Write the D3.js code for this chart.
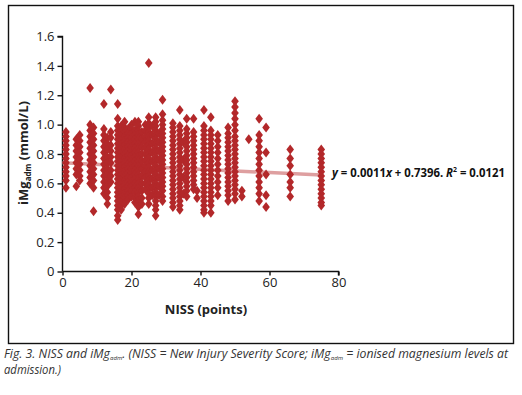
<!DOCTYPE html>
<html lang="en">

<head>
    <meta charset="UTF-8">
    <title>NISS and iMg</title>
    <style>
        body { margin: 0; background: #fff; }
        text { font-family: "Open Sans", "Noto Sans", sans-serif; }
    </style>
</head>

<body>
    <svg width="522" height="395"></svg>
    <script src="https://d3js.org/d3.v7.min.js"></script>
    <script>
        // NISS (points) of each column of patients
        var niss = [1, 4, 5, 8, 9, 12, 13, 14, 16, 17, 18, 19, 20, 21, 22, 23, 24, 25, 26, 27, 28, 29,
            32, 34, 35, 36, 38, 39, 41, 43, 45, 48, 50, 52, 54, 57, 59, 66, 75]

        // iMg adm (mmol/L), same order as niss
        var imgAdm = [
            [0.95, 0.92, 0.89, 0.86, 0.83, 0.80, 0.77, 0.74, 0.71, 0.68, 0.65, 0.62, 0.57],
            [0.90, 0.86, 0.82, 0.78, 0.74, 0.70, 0.66, 0.58],
            [0.93, 0.89, 0.85, 0.81, 0.77, 0.73, 0.69, 0.65, 0.62],
            [1.25, 1.00, 0.96, 0.92, 0.88, 0.84, 0.80, 0.76, 0.72, 0.68, 0.64, 0.60],
            [0.98, 0.94, 0.90, 0.86, 0.82, 0.78, 0.74, 0.70, 0.66, 0.62, 0.57, 0.41],
            [1.14, 0.97, 0.93, 0.89, 0.85, 0.81, 0.77, 0.73, 0.69, 0.65, 0.61, 0.57, 0.53],
            [0.91, 0.87, 0.83, 0.78, 0.74, 0.70, 0.66, 0.62, 0.58, 0.54, 0.50, 0.46],
            [1.24, 0.95, 0.91, 0.86, 0.82, 0.78, 0.74, 0.69, 0.65, 0.61],
            [1.14, 1.04, 0.99, 0.96, 0.93, 0.90, 0.87, 0.84, 0.81, 0.78, 0.75, 0.72, 0.69, 0.66, 0.63, 0.60, 0.57, 0.54, 0.51, 0.48, 0.45, 0.42, 0.38, 0.35],
            [0.99, 0.96, 0.93, 0.90, 0.87, 0.84, 0.81, 0.78, 0.75, 0.72, 0.69, 0.66, 0.63, 0.60, 0.57, 0.54, 0.51, 0.48, 0.45, 0.42],
            [1.02, 0.98, 0.95, 0.92, 0.89, 0.86, 0.83, 0.80, 0.77, 0.74, 0.71, 0.68, 0.65, 0.62, 0.59, 0.56, 0.53, 0.50, 0.46],
            [0.97, 0.94, 0.91, 0.88, 0.85, 0.82, 0.79, 0.76, 0.73, 0.70, 0.67, 0.64, 0.61, 0.58, 0.55, 0.52, 0.49],
            [1.00, 0.97, 0.94, 0.91, 0.88, 0.85, 0.82, 0.79, 0.76, 0.73, 0.70, 0.67, 0.64, 0.61, 0.58, 0.55, 0.51],
            [1.02, 0.96, 0.93, 0.90, 0.87, 0.84, 0.81, 0.78, 0.75, 0.72, 0.69, 0.66, 0.63, 0.60, 0.57, 0.54, 0.50, 0.47],
            [1.02, 0.99, 0.96, 0.93, 0.90, 0.87, 0.84, 0.81, 0.78, 0.75, 0.72, 0.69, 0.66, 0.63, 0.60, 0.57, 0.54, 0.51, 0.48, 0.44, 0.39],
            [0.95, 0.90, 0.85, 0.80, 0.75, 0.70, 0.65, 0.60, 0.55, 0.50, 0.46],
            [1.00, 0.96, 0.92, 0.88, 0.84, 0.80, 0.76, 0.72, 0.68, 0.64, 0.60, 0.56],
            [1.42, 1.05, 1.01, 0.98, 0.95, 0.92, 0.89, 0.86, 0.83, 0.80, 0.77, 0.74, 0.71, 0.68, 0.65, 0.62, 0.59, 0.56, 0.53, 0.50, 0.46],
            [0.99, 0.93, 0.87, 0.81, 0.75, 0.69, 0.63, 0.57, 0.52],
            [1.05, 1.02, 0.99, 0.96, 0.93, 0.90, 0.87, 0.84, 0.81, 0.78, 0.75, 0.72, 0.69, 0.66, 0.63, 0.60, 0.57, 0.54, 0.51, 0.48, 0.45, 0.42, 0.38],
            [0.94, 0.88, 0.82, 0.76, 0.70, 0.64, 0.58, 0.52],
            [1.17, 1.07, 1.03, 1.00, 0.97, 0.94, 0.91, 0.88, 0.85, 0.82, 0.79, 0.76, 0.73, 0.70, 0.67, 0.64, 0.61, 0.58, 0.55, 0.51, 0.48],
            [1.01, 0.98, 0.95, 0.92, 0.89, 0.86, 0.83, 0.80, 0.77, 0.74, 0.71, 0.68, 0.65, 0.62, 0.59, 0.56, 0.53, 0.50, 0.47, 0.44],
            [1.10, 0.99, 0.96, 0.93, 0.90, 0.87, 0.84, 0.81, 0.78, 0.75, 0.72, 0.69, 0.66, 0.63, 0.60, 0.57, 0.54, 0.51, 0.48, 0.45, 0.42],
            [0.88, 0.76, 0.64, 0.53],
            [1.04, 0.97, 0.94, 0.91, 0.88, 0.85, 0.82, 0.79, 0.76, 0.73, 0.70, 0.67, 0.64, 0.61, 0.58, 0.55, 0.51],
            [1.04, 0.95, 0.92, 0.89, 0.86, 0.83, 0.80, 0.77, 0.74, 0.71, 0.68, 0.65, 0.62, 0.59, 0.56],
            [0.55, 0.50],
            [1.10, 0.99, 0.96, 0.93, 0.90, 0.87, 0.84, 0.81, 0.78, 0.75, 0.72, 0.69, 0.66, 0.63, 0.60, 0.57, 0.54, 0.51, 0.48, 0.45, 0.42, 0.40],
            [1.05, 0.96, 0.93, 0.90, 0.87, 0.84, 0.81, 0.78, 0.75, 0.72, 0.69, 0.66, 0.63, 0.60, 0.57, 0.54, 0.51, 0.48, 0.45, 0.40],
            [0.93, 0.89, 0.85, 0.81, 0.77, 0.73, 0.69, 0.65, 0.61, 0.57, 0.52],
            [0.98, 0.94, 0.91, 0.88, 0.85, 0.82, 0.79, 0.76, 0.73, 0.70, 0.67, 0.64, 0.61, 0.58, 0.55, 0.52, 0.48],
            [1.16, 1.12, 1.08, 1.04, 1.00, 0.96, 0.92, 0.89, 0.86, 0.83, 0.80, 0.77, 0.74, 0.71, 0.68, 0.65, 0.62, 0.59, 0.56, 0.53, 0.49],
            [0.55, 0.51],
            [0.90],
            [1.04, 0.93, 0.89, 0.85, 0.81, 0.77, 0.73, 0.69, 0.65, 0.61, 0.57, 0.53, 0.48],
            [0.98, 0.81, 0.66, 0.52, 0.44],
            [0.83, 0.77, 0.72, 0.66, 0.61, 0.57, 0.51],
            [0.83, 0.80, 0.77, 0.74, 0.71, 0.68, 0.65, 0.62, 0.59, 0.56, 0.53, 0.50, 0.47, 0.45]
        ]

        var xTicks = [0, 20, 40, 60, 80]
        var yTicks = [0, 0.2, 0.4, 0.6, 0.8, 1.0, 1.2, 1.4, 1.6]
        // fitted trend line as drawn (ends at x = 0 and x = 75)
        var fitX = [0, 75]
        var fitIntercept = 0.7396
        var fitSlope = -0.0011

        var svg = d3.select('svg')

        var points = []
        niss.forEach(function (n, i) {
            imgAdm[i].forEach(function (v) { points.push({ x: n, y: v }) })
        })

        var x = d3.scaleLinear().domain([0, 80]).range([62.5, 338.5])
        var y = d3.scaleLinear().domain([0, 1.6]).range([271.5, 36.5])

        // frame round the figure
        svg.append("rect").attr("x", 8.5).attr("y", 5.5).attr("width", 505).attr("height", 338)
            .style("fill", "none").style("stroke", "#111").style("stroke-width", 1.4)

        // axes
        var yAxis = svg.append("g").attr("transform", "translate(62.5,0)")
            .call(d3.axisLeft(y).tickValues(yTicks).tickSize(5).tickPadding(3)
                .tickFormat(function (d) { return d === 0 ? "0" : d3.format(".1f")(d) }))
        var xAxis = svg.append("g").attr("transform", "translate(0,271.5)")
            .call(d3.axisBottom(x).tickValues(xTicks).tickSize(4).tickPadding(2))
        svg.selectAll(".domain, .tick line").style("stroke", "#111").style("stroke-width", 1.4)
        yAxis.select(".domain").attr("d", "M-5,36.5H0V271.5")
        xAxis.select(".domain").attr("d", "M62.5,0H338.5V4")
        svg.selectAll(".tick text").style("font-size", "13px").style("fill", "#222")
            .style("font-family", "'Open Sans', sans-serif")

        // trend line, under the points
        svg.append("line")
            .attr("x1", x(fitX[0])).attr("y1", y(fitIntercept + fitSlope * fitX[0]))
            .attr("x2", x(fitX[1])).attr("y2", y(fitIntercept + fitSlope * fitX[1]))
            .style("stroke", "#d98f90").style("stroke-width", 3.5).style("opacity", 0.85)

        // diamonds
        svg.append("g").selectAll("path").data(points).enter().append("path")
            .attr("d", "M0,-5L3.8,0L0,5L-3.8,0Z")
            .attr("transform", function (d) { return "translate(" + x(d.x) + "," + y(d.y) + ")" })
            .style("fill", "#b3282a")

        // axis titles
        svg.append("text").attr("x", 206).attr("y", 314).attr("text-anchor", "middle")
            .style("font-size", "13px").style("font-weight", "bold").style("fill", "#222")
            .text("NISS (points)")

        var yt = svg.append("text").attr("transform", "translate(28,153) rotate(-90)")
            .attr("text-anchor", "middle").style("font-size", "13px").style("font-weight", "bold").style("fill", "#222")
        yt.append("tspan").text("iMg")
        yt.append("tspan").attr("dy", 3).style("font-size", "8px").text("adm")
        yt.append("tspan").attr("dy", -3).text(" (mmol/L)")

        // equation
        var eq = svg.append("text").attr("x", 332).attr("y", 177)
            .style("font-size", "11.5px").style("font-weight", "bold").style("fill", "#111")
            .attr("textLength", 173).attr("lengthAdjust", "spacingAndGlyphs")
        eq.append("tspan").style("font-style", "italic").text("y")
        eq.append("tspan").text(" = 0.0011")
        eq.append("tspan").style("font-style", "italic").text("x")
        eq.append("tspan").text(" + 0.7396. ")
        eq.append("tspan").style("font-style", "italic").text("R")
        eq.append("tspan").attr("dy", -5).style("font-size", "7px").text("2")
        eq.append("tspan").attr("dy", 5).text(" = 0.0121")

        // caption
        var cap = svg.append("text").attr("x", 4).attr("y", 358)
            .style("font-size", "12px").style("font-style", "italic").style("fill", "#333")
            .attr("textLength", 504).attr("lengthAdjust", "spacingAndGlyphs")
        cap.append("tspan").text("Fig. 3. NISS and iMg")
        cap.append("tspan").attr("dy", 1.5).style("font-size", "6px").text("adm")
        cap.append("tspan").attr("dy", -1.5).text(". (NISS = New Injury Severity Score; iMg")
        cap.append("tspan").attr("dy", 1.5).style("font-size", "6px").text("adm")
        cap.append("tspan").attr("dy", -1.5).text(" = ionised magnesium levels at")
        svg.append("text").attr("x", 4).attr("y", 374)
            .style("font-size", "12px").style("font-style", "italic").style("fill", "#333")
            .attr("textLength", 57).attr("lengthAdjust", "spacingAndGlyphs")
            .text("admission.)")
    </script>
</body>

</html>
